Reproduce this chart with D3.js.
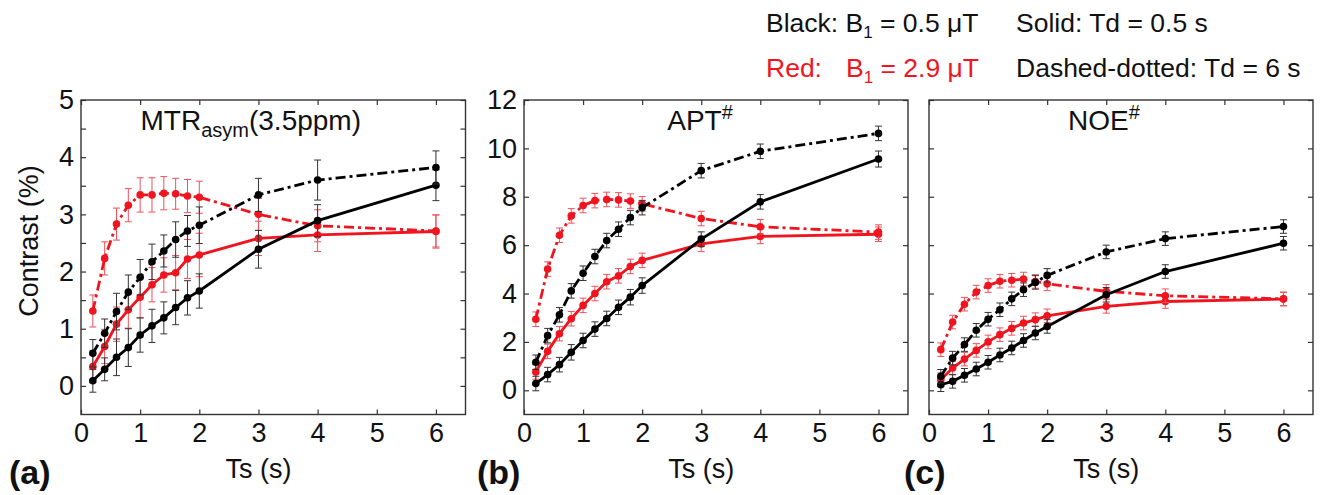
<!DOCTYPE html>
<html>
<head>
<meta charset="utf-8">
<script src="https://cdn.jsdelivr.net/npm/d3@7"></script>
<style>
body { margin: 0; background: #fff; }
text { font-family: "Liberation Sans", Arial, sans-serif; }
</style>
</head>
<body>
<svg id="fig" width="1328" height="495"></svg>
<script>
// saturation time points (s)
const ts = [0.2, 0.4, 0.6, 0.8, 1.0, 1.2, 1.4, 1.6, 1.8, 2.0, 3, 4, 6];
const xTicks = [0, 1, 2, 3, 4, 5, 6];

// (a) MTRasym(3.5ppm)
const mtrBlackSolid    = [0.09, 0.29, 0.50, 0.67, 0.89, 1.05, 1.19, 1.37, 1.54, 1.66, 2.39, 2.89, 3.51];
const mtrBlackSolidErr = [0.20, 0.20, 0.32, 0.33, 0.30, 0.29, 0.28, 0.30, 0.30, 0.30, 0.33, 0.28, 0.27];
const mtrBlackDash     = [0.57, 0.92, 1.30, 1.64, 1.90, 2.17, 2.36, 2.56, 2.71, 2.81, 3.34, 3.60, 3.82];
const mtrBlackDashErr  = [0.24, 0.25, 0.32, 0.30, 0.31, 0.31, 0.28, 0.31, 0.27, 0.32, 0.29, 0.35, 0.29];
const mtrRedSolid      = [0.34, 0.69, 1.08, 1.33, 1.55, 1.77, 1.94, 1.98, 2.22, 2.29, 2.58, 2.64, 2.70];
const mtrRedSolidErr   = [0.28, 0.30, 0.30, 0.32, 0.36, 0.30, 0.30, 0.30, 0.34, 0.38, 0.30, 0.29, 0.29];
const mtrRedDash       = [1.31, 2.23, 2.83, 3.16, 3.34, 3.34, 3.37, 3.36, 3.32, 3.30, 3.00, 2.80, 2.71];
const mtrRedDashErr    = [0.28, 0.29, 0.28, 0.29, 0.30, 0.30, 0.29, 0.27, 0.29, 0.28, 0.28, 0.28, 0.28];

// (b) APT#
const aptBlackSolid    = [0.28, 0.65, 1.06, 1.57, 2.06, 2.53, 2.97, 3.43, 3.85, 4.33, 6.25, 7.79, 9.56];
const aptBlackSolidErr = [0.30, 0.30, 0.30, 0.32, 0.30, 0.30, 0.30, 0.30, 0.32, 0.32, 0.30, 0.30, 0.33];
const aptBlackDash     = [1.16, 2.26, 3.12, 4.11, 4.84, 5.53, 6.19, 6.66, 7.14, 7.55, 9.08, 9.88, 10.62];
const aptBlackDashErr  = [0.30, 0.30, 0.30, 0.30, 0.30, 0.30, 0.30, 0.30, 0.30, 0.30, 0.30, 0.30, 0.30];
const aptRedSolid      = [0.76, 1.61, 2.34, 2.96, 3.51, 4.00, 4.49, 4.73, 5.12, 5.37, 6.05, 6.36, 6.45];
const aptRedSolidErr   = [0.30, 0.30, 0.30, 0.30, 0.30, 0.30, 0.30, 0.30, 0.30, 0.30, 0.32, 0.30, 0.30];
const aptRedDash       = [2.94, 5.01, 6.41, 7.21, 7.64, 7.84, 7.89, 7.87, 7.82, 7.71, 7.10, 6.76, 6.54];
const aptRedDashErr    = [0.30, 0.30, 0.30, 0.30, 0.30, 0.30, 0.30, 0.30, 0.30, 0.30, 0.30, 0.30, 0.30];

// (c) NOE#
const noeBlackSolid    = [0.23, 0.37, 0.62, 0.88, 1.16, 1.46, 1.75, 2.06, 2.37, 2.64, 3.95, 4.91, 6.08];
const noeBlackSolidErr = [0.28, 0.28, 0.28, 0.28, 0.28, 0.28, 0.28, 0.28, 0.28, 0.28, 0.30, 0.28, 0.28];
const noeBlackDash     = [0.58, 1.33, 1.89, 2.48, 2.94, 3.33, 3.78, 4.16, 4.46, 4.75, 5.72, 6.27, 6.77];
const noeBlackDashErr  = [0.28, 0.28, 0.28, 0.28, 0.28, 0.28, 0.28, 0.28, 0.28, 0.28, 0.28, 0.28, 0.28];
const noeRedSolid      = [0.44, 0.92, 1.29, 1.65, 2.00, 2.30, 2.56, 2.78, 2.92, 3.08, 3.47, 3.67, 3.77];
const noeRedSolidErr   = [0.28, 0.28, 0.28, 0.28, 0.28, 0.28, 0.28, 0.28, 0.28, 0.28, 0.28, 0.28, 0.28];
const noeRedDash       = [1.68, 2.82, 3.56, 4.06, 4.33, 4.51, 4.55, 4.60, 4.50, 4.40, 4.09, 3.91, 3.78];
const noeRedDashErr    = [0.28, 0.28, 0.28, 0.28, 0.28, 0.28, 0.28, 0.28, 0.28, 0.28, 0.28, 0.28, 0.28];

const RED = "#f0141e";
const DASHDOT = "10,4,3,4";

const svg = d3.select("#fig");
const top0 = 100, bottom0 = 414.5;

const panels = [
    { left: 81, right: 465.5, yDomain: [-0.5, 5], yTicks: d3.range(0, 5.01, 0.5), yLabels: true,
      titleX: 2.87, letter: "(a)", letterX: 9,
      series: [
        [mtrRedSolid, mtrRedSolidErr, RED, null],
        [mtrRedDash, mtrRedDashErr, RED, DASHDOT],
        [mtrBlackSolid, mtrBlackSolidErr, "#000", null],
        [mtrBlackDash, mtrBlackDashErr, "#000", DASHDOT]
      ] },
    { left: 524, right: 908, yDomain: [-1, 12], yTicks: d3.range(0, 12.01, 2), yLabels: true,
      titleX: 2.98, letter: "(b)", letterX: 477,
      series: [
        [aptRedSolid, aptRedSolidErr, RED, null],
        [aptRedDash, aptRedDashErr, RED, DASHDOT],
        [aptBlackSolid, aptBlackSolidErr, "#000", null],
        [aptBlackDash, aptBlackDashErr, "#000", DASHDOT]
      ] },
    { left: 929, right: 1313, yDomain: [-1, 12], yTicks: d3.range(0, 12.01, 2), yLabels: false,
      titleX: 2.96, letter: "(c)", letterX: 904,
      series: [
        [noeRedSolid, noeRedSolidErr, RED, null],
        [noeRedDash, noeRedDashErr, RED, DASHDOT],
        [noeBlackSolid, noeBlackSolidErr, "#000", null],
        [noeBlackDash, noeBlackDashErr, "#000", DASHDOT]
      ] }
];

panels.forEach((p, i) => {
    const x = d3.scaleLinear().domain([0, 6.5]).range([p.left, p.right]);
    const y = d3.scaleLinear().domain(p.yDomain).range([bottom0, top0]);
    const g = svg.append("g");

    const fmt = d => p.yLabels && Number.isInteger(d) ? d : "";

    // axes, ticks pointing inward on all four sides
    const ax = [
        g.append("g").attr("transform", `translate(0,${bottom0})`)
            .call(d3.axisBottom(x).tickValues(xTicks).tickSize(-5).tickPadding(8).tickFormat(d3.format("d"))),
        g.append("g").attr("transform", `translate(0,${top0})`)
            .call(d3.axisTop(x).tickValues(xTicks).tickSize(-5).tickFormat("")),
        g.append("g").attr("transform", `translate(${p.left},0)`)
            .call(d3.axisLeft(y).tickValues(p.yTicks).tickSize(-5).tickPadding(7).tickFormat(fmt)),
        g.append("g").attr("transform", `translate(${p.right},0)`)
            .call(d3.axisRight(y).tickValues(p.yTicks).tickSize(-5).tickFormat(""))
    ];
    ax.forEach(a => {
        a.select(".domain").remove();
        a.selectAll("line").attr("stroke", "#333").attr("stroke-width", 1.2);
        a.selectAll("text").attr("font-size", 27).attr("fill", "#111")
            .attr("font-family", "'Liberation Sans', Arial, sans-serif");
    });

    g.append("rect")
        .attr("x", p.left).attr("y", top0)
        .attr("width", p.right - p.left).attr("height", bottom0 - top0)
        .attr("fill", "none").attr("stroke", "#333").attr("stroke-width", 1.4);

    const line = d3.line().x((d, k) => x(ts[k])).y(d => y(d));

    p.series.forEach(([vals, errs, color, dash]) => {
        const eb = color === RED ? "#f0505a" : "#333";
        const sg = g.append("g");
        vals.forEach((v, k) => {
            const cx = x(ts[k]);
            sg.append("line").attr("x1", cx).attr("x2", cx)
                .attr("y1", y(v - errs[k])).attr("y2", y(v + errs[k]))
                .attr("stroke", eb).attr("stroke-width", 1);
            [v - errs[k], v + errs[k]].forEach(e => {
                sg.append("line").attr("x1", cx - 3.5).attr("x2", cx + 3.5)
                    .attr("y1", y(e)).attr("y2", y(e))
                    .attr("stroke", eb).attr("stroke-width", 1);
            });
        });
        sg.append("path").datum(vals)
            .attr("d", line)
            .attr("fill", "none")
            .attr("stroke", color)
            .attr("stroke-width", 2.8)
            .attr("stroke-dasharray", dash);
        sg.selectAll("circle").data(vals).enter().append("circle")
            .attr("cx", (d, k) => x(ts[k]))
            .attr("cy", d => y(d))
            .attr("r", 3.8)
            .attr("fill", color);
    });

    // panel title
    const t = g.append("text")
        .attr("x", x(p.titleX)).attr("y", 130)
        .attr("text-anchor", "middle")
        .attr("font-size", 28).attr("fill", "#111");
    if (i === 0) {
        t.append("tspan").text("MTR");
        t.append("tspan").attr("font-size", 20).attr("dy", 7).text("asym");
        t.append("tspan").attr("dy", -7).text("(3.5ppm)");
    } else {
        t.append("tspan").text(i === 1 ? "APT" : "NOE");
        t.append("tspan").attr("font-size", 20).attr("dy", -11).text("#");
    }

    // x label
    g.append("text")
        .attr("x", x(3)).attr("y", 478)
        .attr("text-anchor", "middle")
        .attr("font-size", 27).attr("fill", "#111")
        .text("Ts (s)");

    // panel letter
    g.append("text")
        .attr("x", p.letterX).attr("y", 484)
        .attr("font-size", 34).attr("font-weight", "bold").attr("fill", "#111")
        .text(p.letter);
});

// y label
svg.append("text")
    .attr("transform", "translate(38,241) rotate(-90)")
    .attr("text-anchor", "middle")
    .attr("font-size", 27).attr("fill", "#111")
    .text("Contrast (%)");

// legend text
const leg = svg.append("g").attr("font-size", 26.5);
function legendLine(xp, yp, color, pre, sub, post) {
    const t = leg.append("text").attr("x", xp).attr("y", yp).attr("fill", color);
    t.append("tspan").text(pre);
    if (sub) {
        t.append("tspan").attr("font-size", 17).attr("dy", 6).text(sub);
        t.append("tspan").attr("dy", -6).text(post);
    }
}
legendLine(766, 32, "#111", "Black: B", "1", " = 0.5 \u03bcT");
legendLine(766, 77, RED, "Red:", null, null);
legendLine(846, 77, RED, "B", "1", " = 2.9 \u03bcT");
legendLine(1016, 32, "#111", "Solid: Td = 0.5 s", null, null);
legendLine(1016, 77, "#111", "Dashed-dotted: Td = 6 s", null, null);
</script>
</body>
</html>
